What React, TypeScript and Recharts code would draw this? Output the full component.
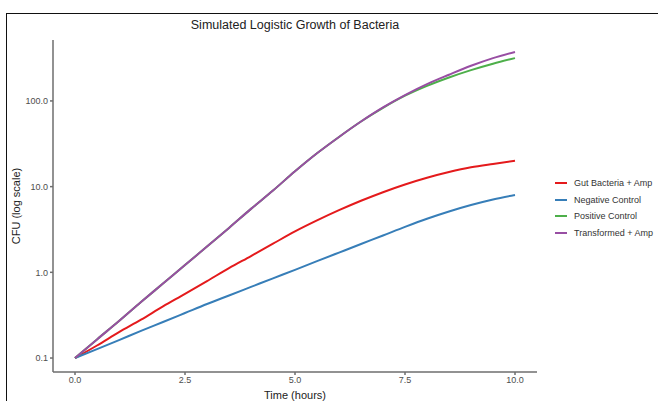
import { LineChart, Line, XAxis, YAxis, Label } from "recharts";

// time points (hours)
const hours = [0, 0.5, 1, 1.5, 2, 2.5, 3, 3.5, 4, 4.5, 5, 5.5, 6, 6.5, 7, 7.5, 8, 8.5, 9, 9.5, 10];

// CFU values (log scale)
const gutBacteriaAmp = [0.1, 0.14, 0.2, 0.28, 0.4, 0.56, 0.79, 1.12, 1.55, 2.16, 3.0, 4.03, 5.31, 6.84, 8.61, 10.6, 12.7, 14.8, 16.8, 18.4, 20];
const negativeControl = [0.1, 0.127, 0.162, 0.207, 0.263, 0.335, 0.427, 0.537, 0.676, 0.851, 1.07, 1.35, 1.7, 2.14, 2.69, 3.39, 4.22, 5.13, 6.1, 7.08, 8.0];
const positiveControl = [0.1, 0.165, 0.27, 0.45, 0.74, 1.22, 2.0, 3.3, 5.5, 9.0, 15.1, 24.5, 38, 57.5, 83, 115, 150, 188, 229, 272, 316];
const transformedAmp = [0.1, 0.165, 0.27, 0.45, 0.74, 1.22, 2.0, 3.3, 5.5, 9.0, 15.1, 24.5, 38, 57.5, 84, 117, 157, 202, 257, 316, 373];

const xTicks = [0, 2.5, 5, 7.5, 10];
const yTicks = [0.1, 1, 10, 100];

const series = [
  { key: "gut", name: "Gut Bacteria + Amp", color: "#E41A1C", values: gutBacteriaAmp },
  { key: "neg", name: "Negative Control", color: "#377EB8", values: negativeControl },
  { key: "pos", name: "Positive Control", color: "#4DAF4A", values: positiveControl },
  { key: "trans", name: "Transformed + Amp", color: "#984EA3", values: transformedAmp },
];

const rows = hours.map((t, i) => {
  const row: Record<string, number> = { t };
  series.forEach((s) => {
    row[s.key] = s.values[i];
  });
  return row;
});

const font = "'Liberation Sans', Arial, sans-serif";
const axisColor = "#6e6e6e";
const tickStyle = { fontSize: 9, fill: "#4d4d4d", fontFamily: font };

export default function App() {
  return (
    <div
      style={{
        position: "absolute",
        left: 0,
        top: 0,
        width: 658,
        height: 401,
        background: "#fff",
        overflow: "hidden",
        fontFamily: font,
      }}
    >
      {/* frame of the screenshot */}
      <div
        style={{
          position: "absolute",
          left: 6,
          top: 13,
          width: 660,
          height: 400,
          borderTop: "1.5px solid #111",
          borderLeft: "1.5px solid #111",
        }}
      />

      <div
        style={{
          position: "absolute",
          left: 95,
          width: 400,
          top: 18,
          textAlign: "center",
          fontSize: 12.5,
          color: "#222",
        }}
      >
        Simulated Logistic Growth of Bacteria
      </div>

      <div style={{ position: "absolute", left: 0, top: 0 }}>
        <LineChart
          width={658}
          height={401}
          data={rows}
          margin={{ top: 40, right: 121, bottom: 0, left: 0 }}
        >
          <XAxis
            dataKey="t"
            type="number"
            domain={[-0.5, 10.5]}
            ticks={xTicks}
            tickFormatter={(v: number) => v.toFixed(1)}
            height={29}
            tickSize={3}
            tick={tickStyle}
            stroke={axisColor}
            strokeWidth={1.5}
            allowDataOverflow
          >
            <Label
              value="Time (hours)"
              position="insideBottom"
              offset={2}
              style={{ fontSize: 11, fill: "#222", fontFamily: font }}
            />
          </XAxis>
          <YAxis
            scale="log"
            domain={[0.0687, 514]}
            ticks={yTicks}
            tickFormatter={(v: number) => v.toFixed(1)}
            width={53}
            tickSize={3}
            tick={tickStyle}
            stroke={axisColor}
            strokeWidth={1.5}
            allowDataOverflow
          >
            <Label
              value="CFU (log scale)"
              angle={-90}
              position="insideLeft"
              offset={16}
              style={{ fontSize: 11, fill: "#222", fontFamily: font, textAnchor: "middle" }}
            />
          </YAxis>
          {series.map((s) => (
            <Line
              key={s.key}
              dataKey={s.key}
              name={s.name}
              type="monotone"
              stroke={s.color}
              strokeWidth={2}
              dot={false}
              isAnimationActive={false}
            />
          ))}
        </LineChart>
      </div>

      {/* legend */}
      <div style={{ position: "absolute", left: 555, top: 175 }}>
        {series.map((s) => (
          <div
            key={s.key}
            style={{ display: "flex", alignItems: "center", height: 16.5 }}
          >
            <div style={{ width: 12, height: 2, background: s.color, marginRight: 7 }} />
            <span style={{ fontSize: 9, color: "#333", whiteSpace: "nowrap" }}>{s.name}</span>
          </div>
        ))}
      </div>
    </div>
  );
}
